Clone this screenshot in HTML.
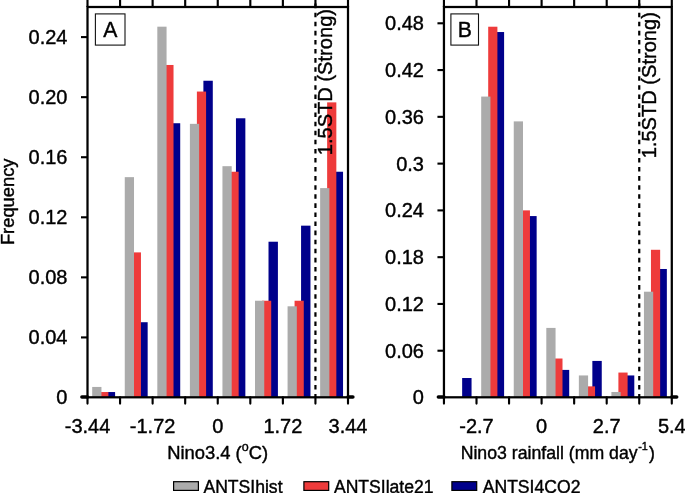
<!DOCTYPE html>
<html lang="en">
<head>
<meta charset="utf-8">
<title>Nino histograms</title>
<style>
html,body{margin:0;padding:0;background:#fff;}
body{width:685px;height:493px;overflow:hidden;font-family:"Liberation Sans",Arial,sans-serif;}
svg{display:block;will-change:transform;}
</style>
</head>
<body>
<svg width="685" height="493" viewBox="0 0 685 493" font-family="'Liberation Sans', Arial, sans-serif" fill="#000">
<style>text{stroke:#000;stroke-width:0.4px;stroke-linejoin:round;}</style>
<rect width="685" height="493" fill="#fff"/>
<g id="barsA"><rect x="105.70" y="392.04" width="9.40" height="5.26" fill="#00008b"/>
<rect x="99.20" y="392.04" width="9.20" height="5.26" fill="#ee3b3b"/>
<rect x="92.20" y="386.94" width="9.25" height="10.36" fill="#ababab"/>
<rect x="138.26" y="322.22" width="9.40" height="75.08" fill="#00008b"/>
<rect x="131.76" y="252.39" width="9.20" height="144.91" fill="#ee3b3b"/>
<rect x="124.76" y="177.15" width="9.25" height="220.15" fill="#ababab"/>
<rect x="170.82" y="123.24" width="9.40" height="274.06" fill="#00008b"/>
<rect x="164.32" y="64.97" width="9.20" height="332.33" fill="#ee3b3b"/>
<rect x="157.32" y="26.68" width="9.25" height="370.62" fill="#ababab"/>
<rect x="203.39" y="80.74" width="9.40" height="316.56" fill="#00008b"/>
<rect x="196.89" y="91.55" width="9.20" height="305.75" fill="#ee3b3b"/>
<rect x="189.89" y="123.84" width="9.25" height="273.46" fill="#ababab"/>
<rect x="235.95" y="118.28" width="9.40" height="279.02" fill="#00008b"/>
<rect x="229.45" y="171.74" width="9.20" height="225.56" fill="#ee3b3b"/>
<rect x="222.45" y="166.19" width="9.25" height="231.11" fill="#ababab"/>
<rect x="268.51" y="241.72" width="9.40" height="155.58" fill="#00008b"/>
<rect x="262.01" y="300.74" width="9.20" height="96.56" fill="#ee3b3b"/>
<rect x="255.01" y="300.74" width="9.25" height="96.56" fill="#ababab"/>
<rect x="301.07" y="225.66" width="9.40" height="171.64" fill="#00008b"/>
<rect x="294.57" y="300.74" width="9.20" height="96.56" fill="#ee3b3b"/>
<rect x="287.57" y="306.30" width="9.25" height="91.00" fill="#ababab"/>
<rect x="333.64" y="171.74" width="9.40" height="225.56" fill="#00008b"/>
<rect x="327.14" y="102.37" width="9.20" height="294.93" fill="#ee3b3b"/>
<rect x="320.14" y="188.11" width="9.25" height="209.19" fill="#ababab"/></g>
<g id="barsB"><rect x="462.15" y="378.02" width="9.40" height="19.28" fill="#00008b"/>
<rect x="494.70" y="32.03" width="9.40" height="365.27" fill="#00008b"/>
<rect x="488.20" y="26.72" width="9.20" height="370.58" fill="#ee3b3b"/>
<rect x="481.20" y="96.57" width="9.25" height="300.73" fill="#ababab"/>
<rect x="527.25" y="216.07" width="9.40" height="181.23" fill="#00008b"/>
<rect x="520.75" y="210.37" width="9.20" height="186.93" fill="#ee3b3b"/>
<rect x="513.75" y="121.39" width="9.25" height="275.91" fill="#ababab"/>
<rect x="559.80" y="369.90" width="9.40" height="27.40" fill="#00008b"/>
<rect x="553.30" y="358.51" width="9.20" height="38.79" fill="#ee3b3b"/>
<rect x="546.30" y="327.91" width="9.25" height="69.39" fill="#ababab"/>
<rect x="592.35" y="360.93" width="9.40" height="36.37" fill="#00008b"/>
<rect x="585.85" y="386.37" width="9.20" height="10.93" fill="#ee3b3b"/>
<rect x="578.85" y="375.45" width="9.25" height="21.85" fill="#ababab"/>
<rect x="624.90" y="375.45" width="9.40" height="21.85" fill="#00008b"/>
<rect x="618.40" y="372.56" width="9.20" height="24.74" fill="#ee3b3b"/>
<rect x="611.40" y="391.99" width="9.25" height="5.31" fill="#ababab"/>
<rect x="657.45" y="268.99" width="9.40" height="128.31" fill="#00008b"/>
<rect x="650.95" y="249.79" width="9.20" height="147.51" fill="#ee3b3b"/>
<rect x="643.95" y="291.70" width="9.25" height="105.60" fill="#ababab"/></g>
<g id="panelA"><rect x="87.5" y="7.0" width="260.5" height="390.3" fill="none" stroke="#000" stroke-width="2.25"/>
<line x1="87.50" y1="-2" x2="87.50" y2="7.0" stroke="#000" stroke-width="2.15"/>
<line x1="87.50" y1="397.3" x2="87.50" y2="403.6" stroke="#000" stroke-width="2.15" stroke-linecap="round"/>
<line x1="120.06" y1="-2" x2="120.06" y2="7.0" stroke="#000" stroke-width="2.15"/>
<line x1="120.06" y1="397.3" x2="120.06" y2="403.6" stroke="#000" stroke-width="2.15" stroke-linecap="round"/>
<line x1="152.62" y1="-2" x2="152.62" y2="7.0" stroke="#000" stroke-width="2.15"/>
<line x1="152.62" y1="397.3" x2="152.62" y2="403.6" stroke="#000" stroke-width="2.15" stroke-linecap="round"/>
<line x1="185.19" y1="-2" x2="185.19" y2="7.0" stroke="#000" stroke-width="2.15"/>
<line x1="185.19" y1="397.3" x2="185.19" y2="403.6" stroke="#000" stroke-width="2.15" stroke-linecap="round"/>
<line x1="217.75" y1="-2" x2="217.75" y2="7.0" stroke="#000" stroke-width="2.15"/>
<line x1="217.75" y1="397.3" x2="217.75" y2="403.6" stroke="#000" stroke-width="2.15" stroke-linecap="round"/>
<line x1="250.31" y1="-2" x2="250.31" y2="7.0" stroke="#000" stroke-width="2.15"/>
<line x1="250.31" y1="397.3" x2="250.31" y2="403.6" stroke="#000" stroke-width="2.15" stroke-linecap="round"/>
<line x1="282.88" y1="-2" x2="282.88" y2="7.0" stroke="#000" stroke-width="2.15"/>
<line x1="282.88" y1="397.3" x2="282.88" y2="403.6" stroke="#000" stroke-width="2.15" stroke-linecap="round"/>
<line x1="315.44" y1="-2" x2="315.44" y2="7.0" stroke="#000" stroke-width="2.15"/>
<line x1="315.44" y1="397.3" x2="315.44" y2="403.6" stroke="#000" stroke-width="2.15" stroke-linecap="round"/>
<line x1="348.00" y1="-2" x2="348.00" y2="7.0" stroke="#000" stroke-width="2.15"/>
<line x1="348.00" y1="397.3" x2="348.00" y2="403.6" stroke="#000" stroke-width="2.15" stroke-linecap="round"/>
<line x1="81.9" y1="396.90" x2="87.5" y2="396.90" stroke="#000" stroke-width="3.5" stroke-linecap="round"/>
<line x1="348.0" y1="396.90" x2="352.9" y2="396.90" stroke="#000" stroke-width="3.5" stroke-linecap="round"/>
<text transform="translate(67.50 404.40) scale(1 1.03)" text-anchor="end" font-size="20">0</text>
<line x1="81.0" y1="337.43" x2="87.5" y2="337.43" stroke="#000" stroke-width="2.1"/>
<text transform="translate(67.50 344.33) scale(1 1.03)" text-anchor="end" font-size="20">0.04</text>
<line x1="81.0" y1="277.36" x2="87.5" y2="277.36" stroke="#000" stroke-width="2.1"/>
<text transform="translate(67.50 284.26) scale(1 1.03)" text-anchor="end" font-size="20">0.08</text>
<line x1="81.0" y1="217.30" x2="87.5" y2="217.30" stroke="#000" stroke-width="2.1"/>
<text transform="translate(67.50 224.20) scale(1 1.03)" text-anchor="end" font-size="20">0.12</text>
<line x1="81.0" y1="157.23" x2="87.5" y2="157.23" stroke="#000" stroke-width="2.1"/>
<text transform="translate(67.50 164.13) scale(1 1.03)" text-anchor="end" font-size="20">0.16</text>
<line x1="81.0" y1="97.16" x2="87.5" y2="97.16" stroke="#000" stroke-width="2.1"/>
<text transform="translate(67.50 104.06) scale(1 1.03)" text-anchor="end" font-size="20">0.20</text>
<line x1="81.0" y1="37.09" x2="87.5" y2="37.09" stroke="#000" stroke-width="2.1"/>
<text transform="translate(67.50 43.99) scale(1 1.03)" text-anchor="end" font-size="20">0.24</text>
<text transform="translate(87.50 432.90) scale(1 1.03)" text-anchor="middle" font-size="20">-3.44</text>
<text transform="translate(152.62 432.90) scale(1 1.03)" text-anchor="middle" font-size="20">-1.72</text>
<text transform="translate(217.75 432.90) scale(1 1.03)" text-anchor="middle" font-size="20">0</text>
<text transform="translate(282.88 432.90) scale(1 1.03)" text-anchor="middle" font-size="20">1.72</text>
<text transform="translate(348.00 432.90) scale(1 1.03)" text-anchor="middle" font-size="20">3.44</text>
<line x1="315.44" y1="3.6" x2="315.44" y2="397.3" stroke="#000" stroke-width="2.2" stroke-dasharray="4.55 4.53"/>
<rect x="95.4" y="13.9" width="29.6" height="31.2" fill="#fff" stroke="#111" stroke-width="1.1"/>
<text transform="translate(110.20 36.90) scale(1 1.06)" text-anchor="middle" font-size="21.2">A</text></g>
<g id="panelB"><rect x="443.95" y="7.0" width="227.84999999999997" height="390.3" fill="none" stroke="#000" stroke-width="2.25"/>
<line x1="443.95" y1="-2" x2="443.95" y2="7.0" stroke="#000" stroke-width="2.15"/>
<line x1="443.95" y1="397.3" x2="443.95" y2="403.6" stroke="#000" stroke-width="2.15" stroke-linecap="round"/>
<line x1="476.50" y1="-2" x2="476.50" y2="7.0" stroke="#000" stroke-width="2.15"/>
<line x1="476.50" y1="397.3" x2="476.50" y2="403.6" stroke="#000" stroke-width="2.15" stroke-linecap="round"/>
<line x1="509.05" y1="-2" x2="509.05" y2="7.0" stroke="#000" stroke-width="2.15"/>
<line x1="509.05" y1="397.3" x2="509.05" y2="403.6" stroke="#000" stroke-width="2.15" stroke-linecap="round"/>
<line x1="541.60" y1="-2" x2="541.60" y2="7.0" stroke="#000" stroke-width="2.15"/>
<line x1="541.60" y1="397.3" x2="541.60" y2="403.6" stroke="#000" stroke-width="2.15" stroke-linecap="round"/>
<line x1="574.15" y1="-2" x2="574.15" y2="7.0" stroke="#000" stroke-width="2.15"/>
<line x1="574.15" y1="397.3" x2="574.15" y2="403.6" stroke="#000" stroke-width="2.15" stroke-linecap="round"/>
<line x1="606.70" y1="-2" x2="606.70" y2="7.0" stroke="#000" stroke-width="2.15"/>
<line x1="606.70" y1="397.3" x2="606.70" y2="403.6" stroke="#000" stroke-width="2.15" stroke-linecap="round"/>
<line x1="639.25" y1="-2" x2="639.25" y2="7.0" stroke="#000" stroke-width="2.15"/>
<line x1="639.25" y1="397.3" x2="639.25" y2="403.6" stroke="#000" stroke-width="2.15" stroke-linecap="round"/>
<line x1="671.80" y1="-2" x2="671.80" y2="7.0" stroke="#000" stroke-width="2.15"/>
<line x1="671.80" y1="397.3" x2="671.80" y2="403.6" stroke="#000" stroke-width="2.15" stroke-linecap="round"/>
<line x1="438.34999999999997" y1="396.90" x2="443.95" y2="396.90" stroke="#000" stroke-width="3.5" stroke-linecap="round"/>
<line x1="671.8" y1="396.90" x2="676.6999999999999" y2="396.90" stroke="#000" stroke-width="3.5" stroke-linecap="round"/>
<text transform="translate(423.95 404.40) scale(1 1.03)" text-anchor="end" font-size="20">0</text>
<line x1="437.45" y1="350.72" x2="443.95" y2="350.72" stroke="#000" stroke-width="2.1"/>
<text transform="translate(423.95 357.62) scale(1 1.03)" text-anchor="end" font-size="20">0.06</text>
<line x1="437.45" y1="303.95" x2="443.95" y2="303.95" stroke="#000" stroke-width="2.1"/>
<text transform="translate(423.95 310.85) scale(1 1.03)" text-anchor="end" font-size="20">0.12</text>
<line x1="437.45" y1="257.17" x2="443.95" y2="257.17" stroke="#000" stroke-width="2.1"/>
<text transform="translate(423.95 264.07) scale(1 1.03)" text-anchor="end" font-size="20">0.18</text>
<line x1="437.45" y1="210.40" x2="443.95" y2="210.40" stroke="#000" stroke-width="2.1"/>
<text transform="translate(423.95 217.30) scale(1 1.03)" text-anchor="end" font-size="20">0.24</text>
<line x1="437.45" y1="163.62" x2="443.95" y2="163.62" stroke="#000" stroke-width="2.1"/>
<text transform="translate(423.95 170.52) scale(1 1.03)" text-anchor="end" font-size="20">0.3</text>
<line x1="437.45" y1="116.84" x2="443.95" y2="116.84" stroke="#000" stroke-width="2.1"/>
<text transform="translate(423.95 123.74) scale(1 1.03)" text-anchor="end" font-size="20">0.36</text>
<line x1="437.45" y1="70.07" x2="443.95" y2="70.07" stroke="#000" stroke-width="2.1"/>
<text transform="translate(423.95 76.97) scale(1 1.03)" text-anchor="end" font-size="20">0.42</text>
<line x1="437.45" y1="23.29" x2="443.95" y2="23.29" stroke="#000" stroke-width="2.1"/>
<text transform="translate(423.95 30.19) scale(1 1.03)" text-anchor="end" font-size="20">0.48</text>
<text transform="translate(476.50 432.90) scale(1 1.03)" text-anchor="middle" font-size="20">-2.7</text>
<text transform="translate(541.60 432.90) scale(1 1.03)" text-anchor="middle" font-size="20">0</text>
<text transform="translate(606.70 432.90) scale(1 1.03)" text-anchor="middle" font-size="20">2.7</text>
<text transform="translate(671.80 432.90) scale(1 1.03)" text-anchor="middle" font-size="20">5.4</text>
<line x1="639.25" y1="3.6" x2="639.25" y2="397.3" stroke="#000" stroke-width="2.2" stroke-dasharray="4.55 4.53"/>
<rect x="450.9" y="13.9" width="27.6" height="31.2" fill="#fff" stroke="#111" stroke-width="1.1"/>
<text transform="translate(464.70 36.90) scale(1 1.06)" text-anchor="middle" font-size="21.2">B</text></g>
<text transform="translate(331.90 9.00) rotate(-90) scale(1 1.03)" text-anchor="end" font-size="20.1">1.5STD (Strong)</text>
<text transform="translate(655.70 12.10) rotate(-90) scale(1 1.03)" text-anchor="end" font-size="20.1">1.5STD (Strong)</text>
<text transform="translate(13.80 201.80) rotate(-90) scale(1 1.03)" text-anchor="middle" font-size="18.35">Frequency</text>
<text transform="translate(217.60 458.80) scale(1 1.03)" text-anchor="middle" font-size="18.4">Nino3.4 (<tspan font-size="12.5" dy="-7.2">o</tspan><tspan dy="7.2">C)</tspan></text>
<text transform="translate(557.80 458.80) scale(1 1.03)" text-anchor="middle" font-size="17.7">Nino3 rainfall (mm day<tspan font-size="10.9" dy="-8.3" dx="0.6">-1</tspan><tspan dy="8.3" dx="1.2">)</tspan></text>
<rect x="173.6" y="481.7" width="24.8" height="8.7" fill="#ababab" stroke="#000" stroke-width="1.2"/>
<text transform="translate(203.40 493.00) scale(1 1.01)" text-anchor="start" font-size="17.6">ANTSIhist</text>
<rect x="303.9" y="481.7" width="24.8" height="8.7" fill="#ee3b3b" stroke="#000" stroke-width="1.2"/>
<text transform="translate(333.90 493.00) scale(1 1.01)" text-anchor="start" font-size="17.6">ANTSIlate21</text>
<rect x="451.9" y="481.7" width="24.8" height="8.7" fill="#00008b" stroke="#000" stroke-width="1.2"/>
<text transform="translate(482.70 493.00) scale(1 1.01)" text-anchor="start" font-size="17.6">ANTSI4CO2</text>
</svg>
</body>
</html>
